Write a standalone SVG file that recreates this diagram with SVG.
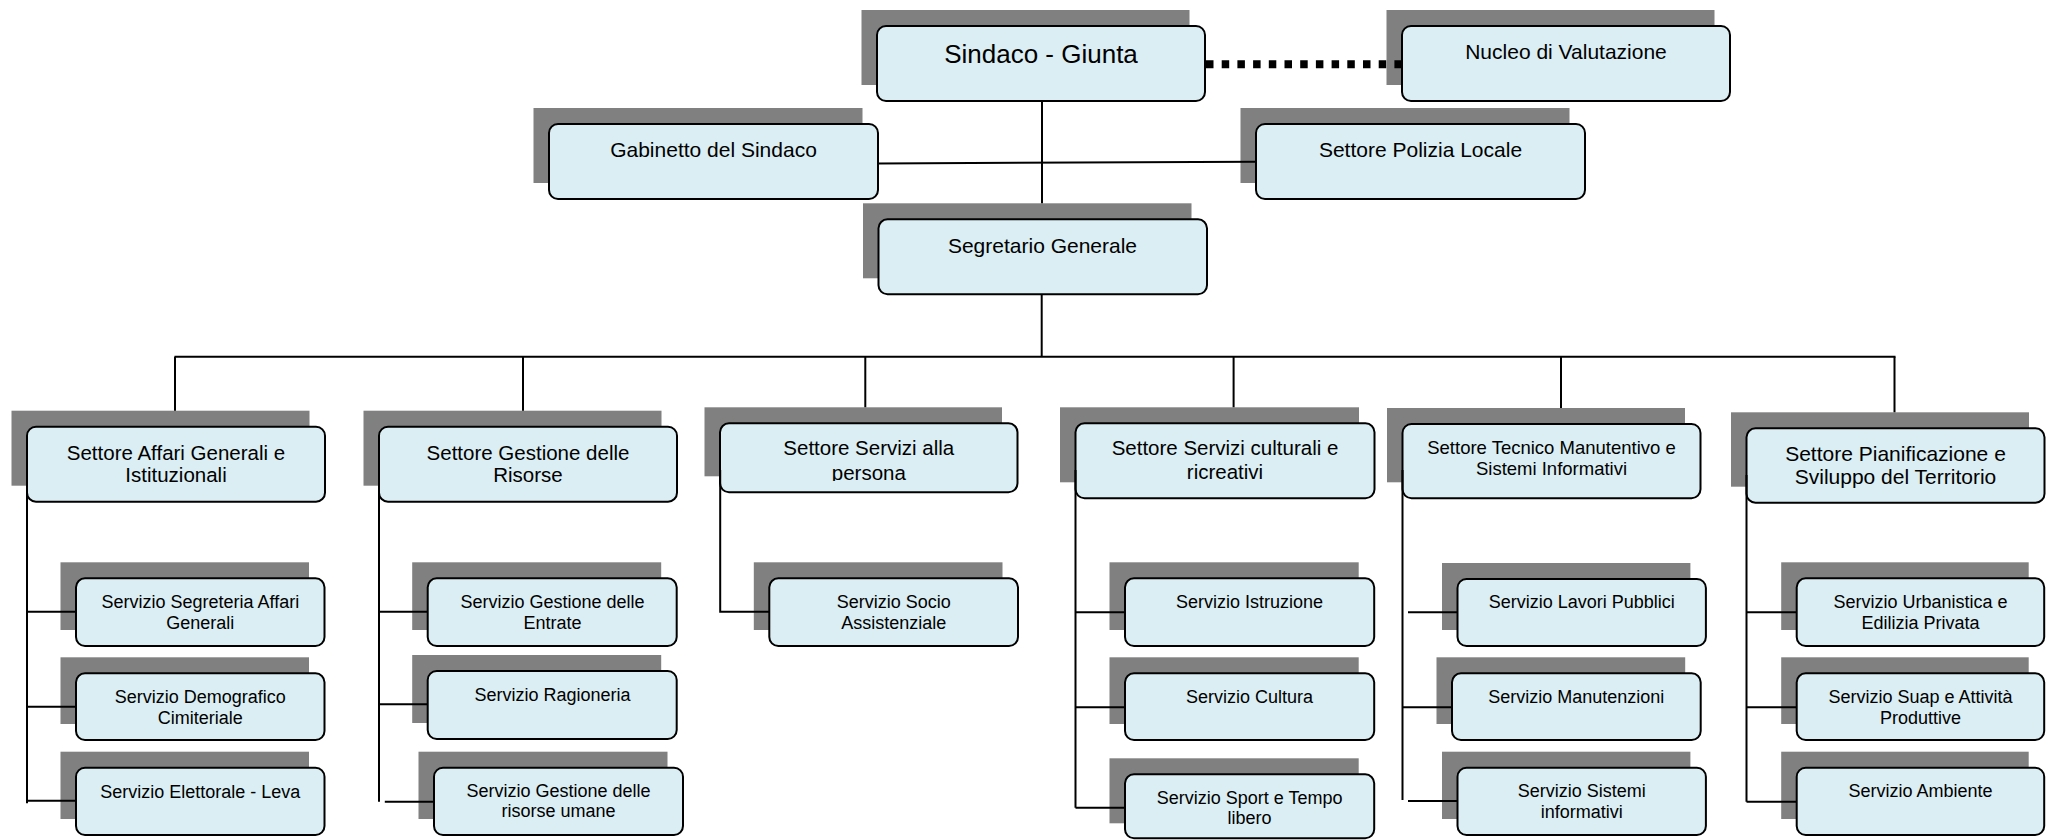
<svg xmlns="http://www.w3.org/2000/svg" width="2055" height="840" viewBox="0 0 2055 840">
  <style>
    .shadow { fill: #808080; }
    .box { fill: #DAEEF3; stroke: #000; stroke-width: 2; }
    text { font-family: "Liberation Sans", Arial, sans-serif; fill: #000; text-anchor: middle; }
    .t-head { font-size: 26px; }
    .t-top { font-size: 21px; }
    .t-sec { font-size: 20.5px; }
    .t-sec-s { font-size: 18.5px; }
    .t-svc { font-size: 18px; }
    .link { fill: none; stroke: #000; stroke-width: 2; }
    .dotted { fill: none; stroke: #000; stroke-width: 8; stroke-dasharray: 7.5 8.2; }
  </style>
  <defs>
    <clipPath id="clip-persona">
      <rect x="720" y="423" width="298" height="58"/>
    </clipPath>
  </defs>

  <rect width="2055" height="840" fill="#fff"/>

  <!-- shadows and boxes -->
  <g id="nodes">
    <g id="sindaco">
      <rect class="shadow" x="861.5" y="10" width="328" height="75"/>
      <rect class="box" x="877" y="26" width="328" height="75" rx="9"/>
      <text class="t-head" x="1041" y="62.5">Sindaco - Giunta</text>
    </g>
    <g id="nucleo">
      <rect class="shadow" x="1386.5" y="10" width="328" height="75"/>
      <rect class="box" x="1402" y="26" width="328" height="75" rx="9"/>
      <text class="t-top" x="1566" y="59.3">Nucleo di Valutazione</text>
    </g>
    <g id="gabinetto">
      <rect class="shadow" x="533.5" y="108" width="329" height="75"/>
      <rect class="box" x="549" y="124" width="329" height="75" rx="9"/>
      <text class="t-top" x="713.5" y="156.7">Gabinetto del Sindaco</text>
    </g>
    <g id="polizia">
      <rect class="shadow" x="1240.5" y="108" width="329" height="75"/>
      <rect class="box" x="1256" y="124" width="329" height="75" rx="9"/>
      <text class="t-top" x="1420.5" y="156.7">Settore Polizia Locale</text>
    </g>
    <g id="segretario">
      <rect class="shadow" x="863" y="203.3" width="328.5" height="75"/>
      <rect class="box" x="878.5" y="219.3" width="328.5" height="75" rx="9"/>
      <text class="t-top" x="1042.5" y="253.3">Segretario Generale</text>
    </g>

    <!-- sectors -->
    <g id="settore-affari">
      <rect class="shadow" x="11.5" y="410.7" width="298" height="75"/>
      <rect class="box" x="27" y="426.7" width="298" height="75" rx="9"/>
      <text class="t-sec" x="176" y="460">Settore Affari Generali e</text>
      <text class="t-sec" x="176" y="481.7">Istituzionali</text>
    </g>
    <g id="settore-risorse">
      <rect class="shadow" x="363.5" y="410.7" width="298" height="75"/>
      <rect class="box" x="379" y="426.7" width="298" height="75" rx="9"/>
      <text class="t-sec" x="528" y="460">Settore Gestione delle</text>
      <text class="t-sec" x="528" y="481.7">Risorse</text>
    </g>
    <g id="settore-persona">
      <rect class="shadow" x="704.5" y="407.3" width="297.5" height="69"/>
      <rect class="box" x="720" y="423.3" width="297.5" height="69" rx="9"/>
      <text class="t-sec" x="868.8" y="455">Settore Servizi alla</text>
      <text class="t-sec" x="868.8" y="480" clip-path="url(#clip-persona)">persona</text>
    </g>
    <g id="settore-culturali">
      <rect class="shadow" x="1060" y="407.3" width="299" height="75"/>
      <rect class="box" x="1075.5" y="423.3" width="299" height="75" rx="9"/>
      <text class="t-sec" x="1225" y="455">Settore Servizi culturali e</text>
      <text class="t-sec" x="1225" y="479.3">ricreativi</text>
    </g>
    <g id="settore-tecnico">
      <rect class="shadow" x="1387" y="408" width="298" height="74.3"/>
      <rect class="box" x="1402.5" y="424" width="298" height="74.3" rx="9"/>
      <text class="t-sec-s" x="1551.5" y="454">Settore Tecnico Manutentivo e</text>
      <text class="t-sec-s" x="1551.5" y="475">Sistemi Informativi</text>
    </g>
    <g id="settore-pianificazione">
      <rect class="shadow" x="1731" y="412.3" width="298" height="74.4"/>
      <rect class="box" x="1746.5" y="428.3" width="298" height="74.4" rx="9"/>
      <text class="t-top" x="1895.5" y="460.7">Settore Pianificazione e</text>
      <text class="t-top" x="1895.5" y="484.3">Sviluppo del Territorio</text>
    </g>

    <!-- services: Affari Generali -->
    <g id="srv-segreteria">
      <rect class="shadow" x="60.5" y="562.3" width="248.5" height="67.7"/>
      <rect class="box" x="76" y="578.3" width="248.5" height="67.7" rx="9"/>
      <text class="t-svc" x="200.3" y="608.3">Servizio Segreteria Affari</text>
      <text class="t-svc" x="200.3" y="629.3">Generali</text>
    </g>
    <g id="srv-demografico">
      <rect class="shadow" x="60.5" y="657.3" width="248.5" height="66.7"/>
      <rect class="box" x="76" y="673.3" width="248.5" height="66.7" rx="9"/>
      <text class="t-svc" x="200.3" y="703.3">Servizio Demografico</text>
      <text class="t-svc" x="200.3" y="724">Cimiteriale</text>
    </g>
    <g id="srv-elettorale">
      <rect class="shadow" x="60.5" y="751.7" width="248.5" height="67.3"/>
      <rect class="box" x="76" y="767.7" width="248.5" height="67.3" rx="9"/>
      <text class="t-svc" x="200.3" y="798.3">Servizio Elettorale - Leva</text>
    </g>

    <!-- services: Gestione delle Risorse -->
    <g id="srv-entrate">
      <rect class="shadow" x="412.2" y="562.3" width="249" height="67.7"/>
      <rect class="box" x="427.7" y="578.3" width="249" height="67.7" rx="9"/>
      <text class="t-svc" x="552.5" y="608.3">Servizio Gestione delle</text>
      <text class="t-svc" x="552.5" y="629.3">Entrate</text>
    </g>
    <g id="srv-ragioneria">
      <rect class="shadow" x="412.2" y="655" width="249" height="68"/>
      <rect class="box" x="427.7" y="671" width="249" height="68" rx="9"/>
      <text class="t-svc" x="552.5" y="700.7">Servizio Ragioneria</text>
    </g>
    <g id="srv-risorse-umane">
      <rect class="shadow" x="418.5" y="751.7" width="249" height="67.3"/>
      <rect class="box" x="434" y="767.7" width="249" height="67.3" rx="9"/>
      <text class="t-svc" x="558.5" y="796.7">Servizio Gestione delle</text>
      <text class="t-svc" x="558.5" y="817.3">risorse umane</text>
    </g>

    <!-- services: Servizi alla persona -->
    <g id="srv-socio">
      <rect class="shadow" x="753.8" y="562.3" width="248.7" height="67.7"/>
      <rect class="box" x="769.3" y="578.3" width="248.7" height="67.7" rx="9"/>
      <text class="t-svc" x="893.7" y="608.3">Servizio Socio</text>
      <text class="t-svc" x="893.7" y="629.3">Assistenziale</text>
    </g>

    <!-- services: Servizi culturali e ricreativi -->
    <g id="srv-istruzione">
      <rect class="shadow" x="1109.5" y="562.3" width="249.2" height="67.7"/>
      <rect class="box" x="1125" y="578.3" width="249.2" height="67.7" rx="9"/>
      <text class="t-svc" x="1249.6" y="608.3">Servizio Istruzione</text>
    </g>
    <g id="srv-cultura">
      <rect class="shadow" x="1109.5" y="657.3" width="249.2" height="66.7"/>
      <rect class="box" x="1125" y="673.3" width="249.2" height="66.7" rx="9"/>
      <text class="t-svc" x="1249.6" y="703.3">Servizio Cultura</text>
    </g>
    <g id="srv-sport">
      <rect class="shadow" x="1109.5" y="758.3" width="249.2" height="65"/>
      <rect class="box" x="1125" y="774.3" width="249.2" height="64" rx="9"/>
      <text class="t-svc" x="1249.6" y="804.3">Servizio Sport e Tempo</text>
      <text class="t-svc" x="1249.6" y="824.3">libero</text>
    </g>

    <!-- services: Tecnico Manutentivo -->
    <g id="srv-lavori">
      <rect class="shadow" x="1442" y="563" width="248.4" height="67"/>
      <rect class="box" x="1457.5" y="579" width="248.4" height="67" rx="9"/>
      <text class="t-svc" x="1581.7" y="608.3">Servizio Lavori Pubblici</text>
    </g>
    <g id="srv-manutenzioni">
      <rect class="shadow" x="1436.5" y="657.3" width="248.7" height="66.7"/>
      <rect class="box" x="1452" y="673.3" width="248.7" height="66.7" rx="9"/>
      <text class="t-svc" x="1576.3" y="703.3">Servizio Manutenzioni</text>
    </g>
    <g id="srv-sistemi">
      <rect class="shadow" x="1442" y="751.7" width="248.4" height="67.3"/>
      <rect class="box" x="1457.5" y="767.7" width="248.4" height="67.3" rx="9"/>
      <text class="t-svc" x="1581.7" y="797.3">Servizio Sistemi</text>
      <text class="t-svc" x="1581.7" y="817.7">informativi</text>
    </g>

    <!-- services: Pianificazione e Sviluppo del Territorio -->
    <g id="srv-urbanistica">
      <rect class="shadow" x="1781.2" y="562.3" width="247.5" height="67.7"/>
      <rect class="box" x="1796.7" y="578.3" width="247.5" height="67.7" rx="9"/>
      <text class="t-svc" x="1920.5" y="608.3">Servizio Urbanistica e</text>
      <text class="t-svc" x="1920.5" y="629.3">Edilizia Privata</text>
    </g>
    <g id="srv-suap">
      <rect class="shadow" x="1781.2" y="657.3" width="247.5" height="66.7"/>
      <rect class="box" x="1796.7" y="673.3" width="247.5" height="66.7" rx="9"/>
      <text class="t-svc" x="1920.5" y="703.3">Servizio Suap e Attività</text>
      <text class="t-svc" x="1920.5" y="723.8">Produttive</text>
    </g>
    <g id="srv-ambiente">
      <rect class="shadow" x="1781.2" y="751.7" width="247.5" height="67.3"/>
      <rect class="box" x="1796.7" y="767.7" width="247.5" height="67.3" rx="9"/>
      <text class="t-svc" x="1920.5" y="797.3">Servizio Ambiente</text>
    </g>
  </g>

  <!-- connectors -->
  <g id="connectors">
    <path class="dotted" d="M1206 64.3 H1403"/>
    <path class="link" stroke-width="2.5" d="M878 163.5 L1256 161.7"/>
    <path class="link" stroke-width="1.6" d="M1042 101 V203.3"/>
    <path class="link" stroke-width="2.5" d="M1041.7 294.3 V357"/>
    <path class="link" d="M174.5 356.7 H1895.5"/>
    <!-- drops to sectors -->
    <path class="link" d="M175 356.7 V410.7 M523 356.7 V410.7 M865.3 356.7 V407.3 M1233.6 356.7 V407.3 M1561 356.7 V408 M1894.5 356.7 V412.3"/>
    <!-- Affari Generali -->
    <path class="link" d="M27 470 V803.3 M27 611.7 H76 M27 706.7 H76 M27 800.7 H76"/>
    <!-- Gestione delle Risorse -->
    <path class="link" d="M379 470 V801.7 M379 611.7 H427.7 M379 704.3 H427.7 M384.8 801.7 H434"/>
    <!-- Servizi alla persona -->
    <path class="link" d="M720.2 470 V611.7 H769.3"/>
    <!-- Servizi culturali -->
    <path class="link" d="M1075.5 470 V807.7 M1075.5 612.3 H1125 M1075.5 707.3 H1125 M1075.5 807.7 H1125"/>
    <!-- Tecnico Manutentivo -->
    <path class="link" d="M1402.5 470 V800 M1408 612.3 H1457.5 M1402.5 707.3 H1452 M1408 801 H1457.5"/>
    <!-- Pianificazione -->
    <path class="link" d="M1746.5 475 V801.7 M1746.5 612.3 H1796.7 M1746.5 707.3 H1796.7 M1746.5 801.7 H1796.7"/>
  </g>
</svg>
